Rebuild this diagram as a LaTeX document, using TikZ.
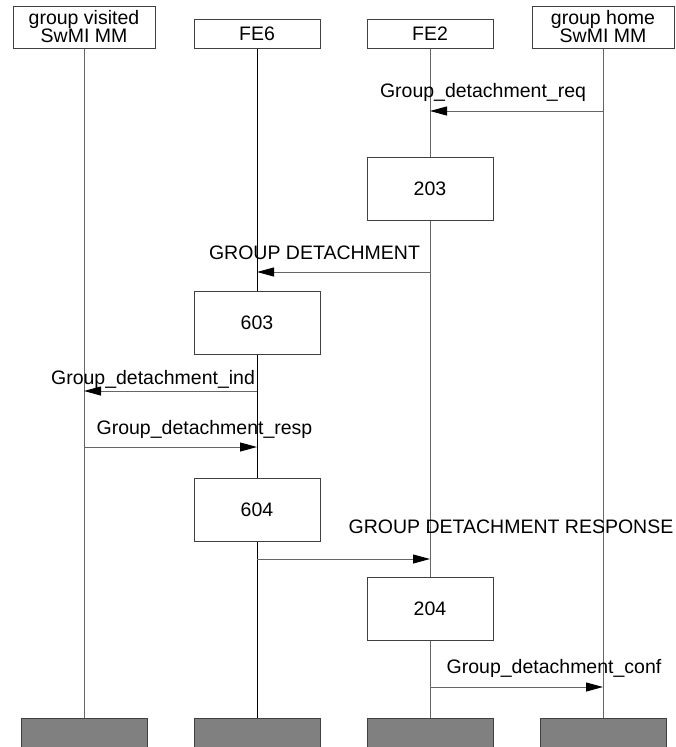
\documentclass[tikz,border=0pt]{standalone}
\usepackage{fontspec}
\setmainfont{Liberation Sans}
\usepackage{tikz}
\usetikzlibrary{arrows.meta, positioning, calc}

\begin{document}
\begin{tikzpicture}[
    x=1pt, y=-1pt,
    font=\fontsize{19.5}{18}\selectfont,
    >={Triangle[length=17pt, width=9pt, color=black]},
    % Styles
    headbox/.style={
      draw=black!75,
      fill=white,
      line width=1pt,
      align=center,
      minimum width=126pt,
      minimum height=29pt,
      inner sep=0pt
    },
    bighead/.style={
      headbox,
      minimum width=142pt,
      minimum height=42pt
    },
    procbox/.style={
      draw=black!75,
      fill=white,
      line width=1pt,
      minimum width=126pt,
      minimum height=63pt,
      inner sep=0pt
    },
    endbox/.style={
      draw=black!75,
      fill=black!50,
      line width=1pt,
      minimum width=126pt,
      minimum height=40pt,
      inner sep=0pt
    },
    lifeline/.style={
      line width=1pt,
      draw=black!60
    },
    msg/.style={
      ->,
      line width=1pt,
      draw=black!60
    },
    msglabel/.style={
      anchor=base,
      inner sep=0pt
    }
  ]

    \useasboundingbox (0,0) rectangle (676,747);
    \clip (0,0) rectangle (676,747);

    % Entities
    \node (visited) [bighead] at (84,27) {group visited\\SwMI MM};
    \node (fesix) [headbox] at (257,33.5) {FE6};
    \node (fetwo) [headbox] at (430,33.5) {FE2};
    \node (home) [bighead] at (603,27) {group home\\SwMI MM};

    % Ends of the lifelines
    \node (visitedend) [endbox] at (84,738) {};
    \node (fesixend) [endbox] at (257,738) {};
    \node (fetwoend) [endbox] at (430,738) {};
    \node (homeend) [endbox] at (603,738) {};

    % Lifelines
    \draw [lifeline] (visited) -- (visitedend);
    \draw [lifeline, draw=black] (fesix) -- (fesixend);
    \draw [lifeline] (fetwo) -- (fetwoend);
    \draw [lifeline] (home) -- (homeend);

    % Processing boxes
    \node (p203) [procbox] at (430,189) {203};
    \node (p603) [procbox] at (257,322.5) {603};
    \node (p604) [procbox] at (257,509.5) {604};
    \node (p204) [procbox] at (430,608.5) {204};

    % Messages
    \draw [msg] (home |- 0,111) -- (fetwo |- 0,111);
    \node (lreq) [msglabel] at (483,97) {Group\_detachment\_req};

    \draw [msg] (fetwo |- 0,272) -- (fesix |- 0,272);
    \node (lgd) [msglabel] at (314.5,259) {GROUP DETACHMENT};

    \draw [msg] (fesix |- 0,391) -- (visited |- 0,391);
    \node (lind) [msglabel] at (153,384) {Group\_detachment\_ind};

    \draw [msg] (visited |- 0,447) -- (fesix |- 0,447);
    \node (lresp) [msglabel] at (204.5,434) {Group\_detachment\_resp};

    \draw [msg] (fesix |- 0,559) -- (fetwo |- 0,559);
    \node (lgdr) [msglabel] at (511,533) {GROUP DETACHMENT RESPONSE};

    \draw [msg] (fetwo |- 0,687) -- (home |- 0,687);
    \node (lconf) [msglabel] at (554,673) {Group\_detachment\_conf};

  \end{tikzpicture}
\end{document}
